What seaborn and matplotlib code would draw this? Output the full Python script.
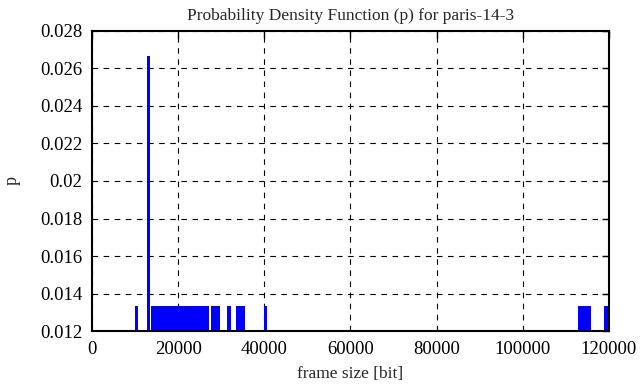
import numpy as np
import matplotlib
matplotlib.use("Agg")
import matplotlib.pyplot as plt
import seaborn as sns
from matplotlib.ticker import FormatStrFormatter

# frame sizes [bit] seen in the trace, and how often each occurred
frame_sizes = [
    10200, 13000,
    13900, 14110, 14360, 14570, 14810, 15030, 15270, 15480, 15720, 15940,
    16190, 16400, 16640, 16870, 17180,
    17600, 17840, 18050, 18300, 18510, 18760, 18970, 19220, 19430, 19680,
    19890, 20140, 20350, 20600, 20810, 21060, 21270, 21520, 21730, 21980,
    22190, 22440, 22650, 22900, 23110, 23360, 23570, 23820, 24030, 24280,
    24490, 24740, 24960,
    25450, 26060, 26380, 26620, 27900, 28230, 28700, 28960, 29160,
    31470, 31820, 33570, 34050, 34500, 34960, 40140,
    113000, 113600, 114070, 114480, 114900, 115300, 119100, 119500,
]
counts = [1] * len(frame_sizes)
counts[1] = 2  # 13000 bit shows up twice

p = np.array(counts) / sum(counts)

sns.set_theme(style="white")
plt.rcParams['font.family'] = ['Liberation Serif', 'DejaVu Serif']

fig = plt.figure(figsize=(6.41, 3.87), dpi=100)
ax = fig.add_axes([0.1435, 0.1447, 0.8065, 0.7752])

ax.vlines(frame_sizes, 0, p, color='#0000ff', linewidth=1.0, antialiased=False)

ax.set_xlim(0, 120000)
ax.set_ylim(0.012, 0.028)
ax.set_xticks(np.arange(0, 120001, 20000))
ax.set_yticks(np.arange(0.012, 0.02801, 0.002))
ax.yaxis.set_major_formatter(FormatStrFormatter('%g'))
ax.grid(True, color='black', linestyle=(0, (5, 5)), linewidth=0.8)
ax.tick_params(direction='in', length=5, width=1, top=True, right=True,
               labelsize=13.5, colors='black', pad=7)
for s in ax.spines.values():
    s.set_color('black')
    s.set_linewidth(1.5)

ax.set_title('Probability Density Function (p) for paris-14-3', fontsize=12.5, pad=8)
ax.set_xlabel('frame size [bit]', fontsize=12.5, labelpad=6)
ax.set_ylabel('p', fontsize=13, labelpad=14)

fig.savefig('out.png', dpi=100)
